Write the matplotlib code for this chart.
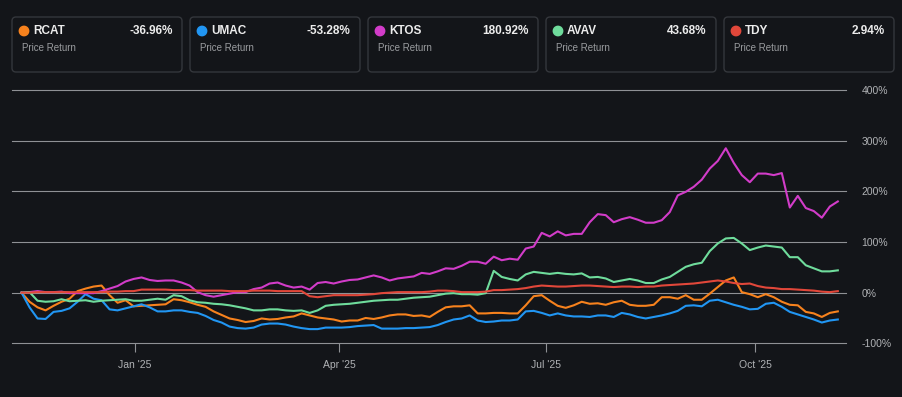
import matplotlib
matplotlib.use('Agg')
import matplotlib.pyplot as plt
import matplotlib.dates as mdates
from matplotlib.patches import FancyBboxPatch, Circle
import pandas as pd

plt.rcParams['font.family'] = ['Liberation Sans', 'DejaVu Sans']

# ---------------- data ----------------
tickers = ['RCAT', 'UMAC', 'KTOS', 'AVAV', 'TDY']
colors = ['#f7821d', '#2196f3', '#d23cc9', '#6fdc9c', '#e1473a']
final_returns = [-36.96, -53.28, 180.92, 43.68, 2.94]
subtitle = 'Price Return'

dates = pd.date_range('2024-11-12', '2025-11-06 12:00', periods=103)

rcat = [0, -18, -29, -35, -26, -18, -12, 3, 8, 12, 14, -5, -20, -15, -27, -26, -25, -24, -23, -13,
        -15, -19, -24, -28, -37, -44, -51, -54, -58, -56, -51, -53, -52, -49, -47,
        -41, -45, -49, -51, -53, -57, -55, -55, -50, -52, -49, -45, -43, -43, -46, -45,
        -48, -38, -29, -27, -27, -25, -41, -41, -40, -40, -41, -41, -25, -7, -5, -16, -26, -30,
        -25, -18, -22, -21, -24, -19, -16, -24, -26, -26, -24, -9, -9, -12, -5, -14, -14,
        -2, 11, 24, 30, 1, -3, -9, -3, -9, -18, -24, -25, -38, -41, -48, -40, -37]

umac = [0, -29, -51, -52, -38, -36, -31, -18, -3, -12, -15, -33, -35, -31, -27, -23, -29, -37, -37, -35,
        -35, -38, -40, -46, -54, -59, -67, -70, -71, -69, -63, -61, -61, -63, -67,
        -70, -72, -72, -69, -69, -69, -68, -66, -65, -64, -71, -71, -71, -70, -70, -69,
        -68, -64, -58, -53, -51, -45, -55, -58, -57, -55, -55, -53, -37, -36, -40, -45, -41, -45,
        -47, -47, -48, -45, -45, -48, -40, -43, -48, -51, -48, -45, -41, -36, -26, -25, -27,
        -16, -14, -19, -24, -28, -33, -32, -22, -20, -28, -38, -43, -48, -53, -59, -55, -53]

ktos = [0, 1, 3, 1, 1, 2, -1, -1, -1, -1, 3, 8, 13, 22, 27, 30, 25, 23, 24, 24,
        20, 14, 1, -5, -8, -5, -2, 1, 1, 7, 10, 18, 20, 14, 10,
        12, 6, 19, 21, 18, 22, 25, 26, 30, 34, 30, 24, 28, 30, 32, 39,
        37, 42, 48, 47, 53, 61, 61, 57, 71, 64, 67, 65, 87, 91, 118, 111, 121, 113,
        116, 116, 139, 155, 153, 139, 145, 149, 144, 138, 138, 143, 159, 192, 199, 209, 223,
        245, 260, 285, 256, 232, 218, 235, 235, 232, 236, 168, 191, 167, 161, 148, 170, 180]

avav = [0, 1, -16, -18, -17, -13, -17, -16, -15, -18, -16, -15, -14, -13, -16, -16, -14, -12, -14, -5,
        -7, -15, -19, -20, -22, -23, -25, -28, -31, -35, -35, -33, -33, -35, -36,
        -35, -40, -35, -26, -24, -23, -22, -20, -18, -16, -15, -14, -14, -12, -10, -9,
        -8, -5, -2, -1, -3, -3, -4, -1, 43, 31, 27, 24, 36, 41, 39, 37, 39, 37,
        36, 38, 30, 31, 28, 21, 24, 27, 24, 19, 19, 26, 31, 41, 51, 56, 59,
        82, 97, 107, 108, 97, 84, 89, 93, 91, 89, 70, 70, 54, 48, 42, 42, 44]

tdy = [0, 0, 1, 1, 1, 1, 1, 1, 1, 1, 1, 2, 2, 3, 3, 6, 6, 6, 6, 5,
       5, 5, 4, 4, 4, 4, 3, 3, 3, 4, 4, 4, 3, 3, 3,
       3, -7, -9, -7, -5, -5, -5, -5, -4, -3, -1, 0, 1, 1, 1, 1,
       2, 4, 4, 3, 1, 1, 1, 2, 5, 5, 6, 7, 9, 12, 14, 13, 12, 12,
       13, 14, 14, 13, 12, 11, 12, 12, 11, 12, 12, 14, 15, 16, 17, 18, 20,
       22, 24, 22, 19, 17, 18, 13, 10, 9, 7, 7, 6, 5, 4, 2, 1, 3]

series = [rcat, umac, ktos, avav, tdy]

y_ticks = [-100, 0, 100, 200, 300, 400]
x_tick_dates = ['2025-01-01', '2025-04-01', '2025-07-01', '2025-10-01']
x_tick_labels = ["Jan '25", "Apr '25", "Jul '25", "Oct '25"]

# ---------------- style ----------------
W, H = 902, 397
BG = '#131519'
GRID = '#8f9195'
TEXT_GRAY = '#b0b2b5'

fig = plt.figure(figsize=(W / 100, H / 100), dpi=100, facecolor=BG)

# main chart axes (pixel-derived layout)
left_px, right_px, top_px, bot_px = 12, 846, 90, 343.3
ax = fig.add_axes([left_px / W, (H - bot_px) / H, (right_px - left_px) / W, (bot_px - top_px) / H])
ax.set_facecolor(BG)
ax.set_ylim(-100, 400)
jan1 = mdates.date2num(pd.Timestamp('2025-01-01'))
ax.set_xlim(jan1 - 54.2, jan1 + 313.1)

for yt in y_ticks:
    ax.axhline(yt, color=GRID, lw=0.8, zorder=1, clip_on=False)

for vals, c in zip(series, colors):
    ax.plot(dates, vals, color=c, lw=1.5, zorder=3, solid_joinstyle='round')

for s in ax.spines.values():
    s.set_visible(False)

ax.yaxis.tick_right()
ax.set_yticks(y_ticks)
ax.set_yticklabels([f'{v}%' for v in y_ticks])
ax.tick_params(axis='y', length=0, pad=11, labelsize=7.5, labelcolor=TEXT_GRAY)

ax.set_xticks([mdates.date2num(pd.Timestamp(d)) for d in x_tick_dates])
ax.set_xticklabels(x_tick_labels)
ax.tick_params(axis='x', length=6.5, width=0.8, color=GRID, pad=5.5,
               labelsize=7.5, labelcolor=TEXT_GRAY, direction='out')

# overlay axes in pixel coordinates for the legend cards
ov = fig.add_axes([0, 0, 1, 1])
ov.set_xlim(0, W)
ov.set_ylim(H, 0)
ov.axis('off')
ov.patch.set_alpha(0)

for i, (t, c, r) in enumerate(zip(tickers, colors, final_returns)):
    x0 = 12 + i * 178
    box = FancyBboxPatch((x0, 17), 170, 55, boxstyle='round,pad=0,rounding_size=4',
                         facecolor=BG, edgecolor='#34373c', lw=1.0)
    ov.add_patch(box)
    ov.add_patch(Circle((x0 + 12, 31), 4.7, color=c))
    ov.text(x0 + 21, 31.5, t, color='#ececec', fontsize=8.5, fontweight='bold',
            va='center', ha='left')
    ov.text(x0 + 160.7, 31.5, f'{r:.2f}%', color='#ececec', fontsize=8.5, fontweight='bold',
            va='center', ha='right')
    ov.text(x0 + 9.7, 48, subtitle, color='#9a9c9f', fontsize=7, va='center', ha='left')

fig.savefig('out.png', dpi=100, facecolor=BG)
